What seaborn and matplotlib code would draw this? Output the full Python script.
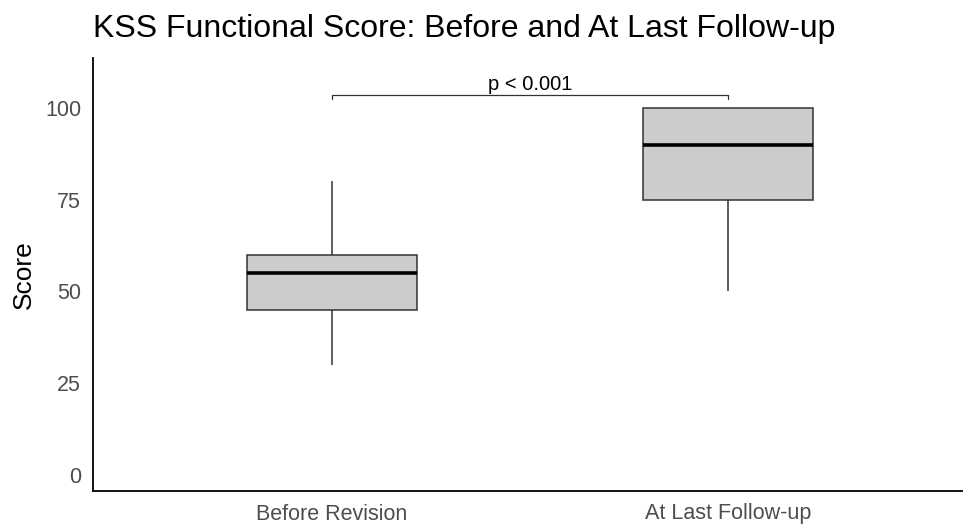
import matplotlib
matplotlib.use("Agg")
import matplotlib.pyplot as plt
import pandas as pd
import seaborn as sns

# KSS functional scores per group
groups = ["Before Revision", "At Last Follow-up"]
before_scores = [30, 40, 45, 45, 50, 55, 55, 60, 60, 65, 80]
after_scores = [50, 70, 75, 75, 85, 90, 95, 100, 100, 100, 100]
y_ticks = [0, 25, 50, 75, 100]
p_label = "p < 0.001"
bracket_y = 103.5


def main():
    df = pd.DataFrame({
        "Time": [groups[0]] * len(before_scores) + [groups[1]] * len(after_scores),
        "Score": before_scores + after_scores,
    })

    sns.set_style("white")
    plt.rcParams["font.family"] = ["Liberation Sans", "DejaVu Sans"]

    fig = plt.figure(figsize=(9.63, 5.24), dpi=100)
    ax = fig.add_axes([93 / 963, 33 / 524, 874 / 963, 433 / 524])

    sns.boxplot(data=df, x="Time", y="Score", order=groups, ax=ax,
                color="#CCCCCC", saturation=1, width=0.43,
                linecolor="#333333", linewidth=1.1, showcaps=False,
                medianprops={"color": "black", "linewidth": 2.6},
                flierprops={"marker": "o", "markersize": 4})

    # significance bracket
    ax.plot([0, 0, 1, 1], [bracket_y - 1.2, bracket_y, bracket_y, bracket_y - 1.2],
            color="#333333", lw=0.9)
    ax.text(0.5, bracket_y + 0.4, p_label, ha="center", va="bottom",
            fontsize=14.5, color="black")

    ax.set_xlim(-0.604, 1.604)
    ax.set_ylim(-4.36, 113.6)
    ax.set_yticks(y_ticks)
    ax.tick_params(axis="both", length=0, labelsize=15.5, colors="#4D4D4D", pad=8.5)
    ax.tick_params(axis="x", pad=9)
    ax.set_xlabel("")
    ax.set_ylabel("Score", fontsize=19, color="black", labelpad=7)
    ax.set_title("KSS Functional Score: Before and At Last Follow-up",
                 fontsize=23, loc="left", x=0.0, pad=15, color="black")

    for side in ["top", "right"]:
        ax.spines[side].set_visible(False)
    for side in ["left", "bottom"]:
        ax.spines[side].set_color("black")
        ax.spines[side].set_linewidth(1.3)

    fig.savefig("out.png", dpi=100)


if __name__ == "__main__":
    main()
